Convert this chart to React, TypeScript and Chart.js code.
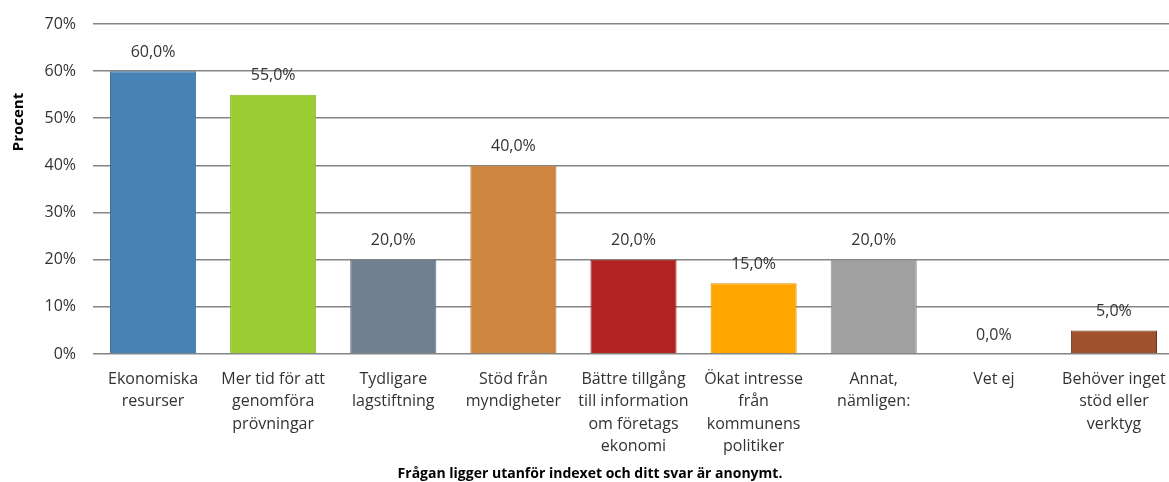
import React, { useEffect, useRef } from "react";
import { Chart, registerables } from "chart.js";

Chart.register(...registerables);

const categories: string[][] = [
  ["Ekonomiska", "resurser"],
  ["Mer tid för att", "genomföra", "prövningar"],
  ["Tydligare", "lagstiftning"],
  ["Stöd från", "myndigheter"],
  ["Bättre tillgång", "till information", "om företags", "ekonomi"],
  ["Ökat intresse", "från", "kommunens", "politiker"],
  ["Annat,", "nämligen:"],
  ["Vet ej"],
  ["Behöver inget", "stöd eller", "verktyg"],
];
const values: number[] = [60, 55, 20, 40, 20, 15, 20, 0, 5];
const barColors: string[] = ["#4682B4", "#9ACD32", "#708090", "#CD853F", "#B22222", "#FFA500", "#A0A0A0", "#A9A9A9", "#A0522D"];
const borderColors: string[] = ["#3d73a0", "#86b52a", "#5f6d7c", "#b5742f", "#9a1c1c", "#e09100", "#8c8c8c", "#949494", "#6b3520"];
const yTicks: number[] = [0, 10, 20, 30, 40, 50, 60, 70];
const yTitle = "Procent";
const xTitle = "Frågan ligger utanför indexet och ditt svar är anonymt.";

const FONT = "'Open Sans', 'DejaVu Sans', sans-serif";

export default function App() {
  const ref = useRef<HTMLCanvasElement | null>(null);
  useEffect(() => {
    document.body.style.margin = "0";
    document.body.style.overflow = "hidden";
    const canvas = ref.current!;
    const labelPlugin = {
      id: "extras",
      afterDatasetsDraw(chart: any) {
        const ctx = chart.ctx;
        const meta = chart.getDatasetMeta(0);
        ctx.save();
        ctx.font = `16px ${FONT}`;
        ctx.fillStyle = "#333333";
        ctx.textAlign = "center";
        ctx.textBaseline = "middle";
        meta.data.forEach((bar: any, i: number) => {
          ctx.fillText(values[i].toFixed(1).replace(".", ",") + "%", bar.x, bar.y - 19);
        });
        ctx.font = `bold 14px ${FONT}`;
        ctx.fillStyle = "#000000";
        ctx.fillText(xTitle, 590, 474);
        ctx.font = `bold 15px ${FONT}`;
        ctx.translate(19, 122);
        ctx.rotate(-Math.PI / 2);
        ctx.fillText(yTitle, 0, 0);
        ctx.restore();
      },
    };
    const chart = new Chart(canvas, {
      type: "bar",
      data: {
        labels: categories,
        datasets: [
          {
            data: values,
            backgroundColor: barColors,
            borderColor: borderColors,
            borderWidth: 1,
            barPercentage: 1,
            categoryPercentage: 0.717,
          },
        ],
      },
      options: {
        animation: false,
        responsive: false,
        devicePixelRatio: 1,
        layout: { padding: { top: 24, right: 6, left: 0, bottom: 0 } },
        plugins: { legend: { display: false }, tooltip: { enabled: false } },
        scales: {
          x: {
            grid: { display: false },
            border: { display: false },
            ticks: {
              color: "#333333",
              font: { family: FONT, size: 16, lineHeight: "22.5px" as any },
              padding: 6,
              maxRotation: 0,
              autoSkip: false,
            },
            afterFit(scale: any) {
              scale.height = 128;
            },
          },
          y: {
            min: 0,
            max: 70,
            border: { display: false },
            grid: { color: "#858585", lineWidth: 1.6, tickLength: 17, tickColor: "rgba(0,0,0,0)" },
            afterBuildTicks(scale: any) {
              scale.ticks = yTicks.map((v) => ({ value: v }));
            },
            ticks: {
              color: "#333333",
              font: { family: FONT, size: 16 },
              padding: 0,
              callback: (v: any) => v + "%",
            },
            afterFit(scale: any) {
              scale.width = 93;
            },
          },
        },
      },
      plugins: [labelPlugin],
    });
    return () => chart.destroy();
  }, []);
  return <canvas ref={ref} width={1180} height={482} style={{ display: "block" }} />;
}
